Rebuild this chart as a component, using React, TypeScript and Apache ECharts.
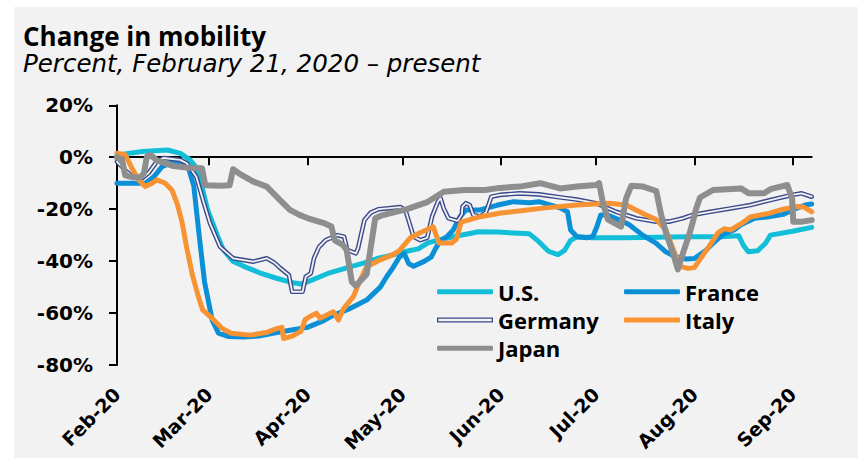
import React, { useEffect, useRef } from "react";
import * as echarts from "echarts";

// Days since Feb 21, 2020
const tickDays = [0, 29, 60, 90, 121, 151, 182, 213];
const tickLabels = ["Feb-20", "Mar-20", "Apr-20", "May-20", "Jun-20", "Jul-20", "Aug-20", "Sep-20"];
const yMin = -80;
const yMax = 20;
const yStep = 20;
const xMax = 219;

const usData = [
  [0, 0.5], [2.5, 1.3], [8, 2.2], [16, 2.8], [20, 1.5], [23, -1], [25, -4], [26.5, -10], [28.5, -20],
  [31.6, -30], [33.5, -35.6], [36.5, -40], [40, -42], [45, -44.5], [50, -46.5], [55, -48.2], [58, -48.8],
  [60, -48], [64, -46], [67, -44.5], [70, -43.5], [74, -42], [78, -40.7], [82, -39], [87, -37.6], [92, -36],
  [95, -35.3], [98, -33], [101, -32], [106, -30.6], [114, -28.7], [120, -28.8], [125, -29.2], [130, -29.5],
  [133, -32.5], [136, -36.2], [139, -37.5], [141, -36], [143, -32], [145, -30.6], [150, -31], [160, -31],
  [170, -30.8], [180, -30.6], [190, -30.6], [196, -30.2], [197.5, -34], [199, -36.4], [202, -36],
  [204.5, -33], [206, -30], [213, -28.5], [219, -27],
];

const franceData = [
  [0, -10], [9, -10], [11.6, -7.5], [14.2, -3.6], [16.7, -2.3], [21, -2.3], [22.5, -4], [24.2, -11],
  [25.8, -29], [27.6, -48], [30, -62.7], [32, -67.7], [35, -69], [40, -69.2], [45, -68.8], [50, -67.6],
  [55, -66.5], [60, -65.5], [65, -63], [68, -61], [73, -58.5], [78.7, -55], [83, -50], [85, -46],
  [87, -42.5], [89, -38.5], [90.5, -37], [92, -41], [93.5, -42], [97, -40], [99, -38.5], [100.5, -35],
  [102, -32], [104, -30.6], [106, -28], [108.1, -23], [110, -20.3], [114.5, -20.3], [119.7, -18.5],
  [125, -17.1], [130, -17.5], [133, -17.1], [139.7, -19.5], [142, -21], [143, -28], [145, -30.6],
  [148, -31], [150, -30.5], [151.3, -26.7], [152.5, -22.2], [154.5, -22.2], [158.5, -24.2], [161.5, -26],
  [165.7, -30], [169.9, -33.1], [173, -36.4], [176, -38.3], [179.4, -39.2], [182, -39], [185.5, -36],
  [188, -33], [191.2, -29.5], [194.5, -28], [196.7, -26], [201, -23.5], [205, -23], [210, -22],
  [213.5, -20], [217, -18.4], [219, -18],
];

const germanyData = [
  [0, -1.7], [3, -5.5], [5, -7.5], [8, -8], [10, -6], [12.5, -1.7], [14.6, -0.3], [19.9, -1], [22, -2.3],
  [25, -7.5], [27.1, -16.5], [29.3, -25.4], [32.5, -34.5], [36.6, -38.9], [42.9, -40.2], [45, -39.6],
  [47.2, -38.9], [49.5, -40.5], [51.3, -42.5], [54.2, -45.4], [55.2, -51.8], [58.5, -51.8], [59.5, -46],
  [61.1, -44.7], [62.1, -38.9], [63.7, -34.5], [65.8, -31.9], [69.5, -30], [71.6, -30.6], [72.6, -35.7],
  [75.3, -37], [76, -35], [76.8, -30.6], [78, -24.2], [80, -21.3], [82.5, -20], [89.3, -19.2],
  [90.9, -20.3], [91.9, -24.2], [93.5, -30.6], [95.6, -31.9], [97.8, -31], [99.3, -22.9], [101.2, -17],
  [102, -15.8], [103, -19.7], [104.5, -23.5], [107.4, -24.5], [108.7, -22], [108.9, -19], [110, -17.7],
  [111.2, -18.4], [112.3, -22.2], [114.5, -22.8], [116.3, -21.3], [118, -15.2], [120.7, -14.5],
  [126.9, -13.9], [133, -14.3], [140, -15.5], [145, -16.3], [151, -17.7], [157.4, -21], [163.7, -23.5],
  [170, -24.8], [174, -24.8], [178.4, -23.5], [181.5, -22.2], [187, -21], [193.4, -19.7], [199.7, -18.4],
  [206, -16.5], [212.8, -14.5], [215.8, -13.9], [219, -15.2],
];

const italyData = [
  [0, 1.5], [2.6, 1], [4.7, -4.2], [6.8, -8.7], [8.9, -11.3], [11, -10], [12.6, -8.7], [15.2, -10],
  [17.3, -12.6], [19, -18], [20.5, -25], [22, -35], [23.7, -45], [25.5, -53], [27, -58.8], [30, -62],
  [33.1, -65.9], [36, -67.8], [42, -68.5], [47, -67.5], [50.3, -66], [52, -65.5], [52.5, -69.8],
  [55, -69], [58, -67], [59.3, -62.5], [60.5, -61.5], [62.9, -60.1], [64, -62], [68.2, -59.5],
  [69.8, -62.7], [71.3, -58.5], [74.5, -53.7], [76.6, -47.5], [78.7, -42.2], [83, -39.5], [87, -37.5],
  [89, -36], [92.5, -31], [95.7, -29], [99.7, -26.8], [101.5, -33], [105.5, -33], [107, -31.5],
  [108.5, -25], [114.5, -22.9], [121, -21.5], [128, -20.5], [135, -19.5], [145, -18.4], [155, -17.7],
  [160.5, -18.4], [163.6, -20.3], [166.8, -22.2], [170, -24], [173, -28], [175.5, -36], [177.5, -42],
  [180, -42.8], [182, -42.5], [183.4, -40], [186.6, -34.4], [189.5, -29], [191.5, -27.5], [193.5, -28],
  [197, -25.4], [199.6, -23], [205.5, -21.6], [210, -20], [214, -19], [216.5, -19.2], [219, -21],
];

const japanData = [
  [0, 0], [1.6, -1], [2.6, -7], [5, -7.7], [7.3, -7.7], [8.5, -6.2], [9.4, 0.2], [10.5, 0.9],
  [12.6, -1.2], [17.8, -3.4], [22, -4], [26.8, -4.2], [27.8, -10.8], [33, -11], [35.5, -10.8],
  [36.6, -4.6], [38.8, -6.5], [43, -9.4], [47.2, -11.3], [51.4, -16.5], [54.5, -20.3], [57.5, -22.2],
  [60.2, -23.5], [65.5, -25.5], [67.6, -26.7], [68.6, -31.9], [71.2, -33.8], [72.4, -35.7], [74, -47.9],
  [75.3, -49.5], [78.7, -45], [81.4, -23.5], [83.2, -22.5], [91.4, -20], [97.6, -17.4], [103, -13.3],
  [109.5, -12.6], [116, -12.6], [120.7, -11.8], [126.9, -11.3], [133.4, -10], [139.7, -12], [145, -11.3],
  [151, -10.7], [152, -10], [153.2, -17.7], [154.8, -24], [158.9, -26.7], [160.5, -15.8], [162.1, -11],
  [165.8, -11.3], [170, -13], [171.5, -22], [173.1, -29.3], [175.3, -37], [176.8, -43.2], [178.4, -37],
  [180.5, -29.3], [181.5, -25], [182.5, -20], [183.8, -15.5], [188, -12.6], [196.7, -12], [199.2, -13.9],
  [204, -13.9], [206, -12.3], [211.3, -10.7], [212.8, -15.8], [213.2, -24.8], [216, -24.8], [219, -24.2],
];

const C_US = "#13BED8";
const C_FR = "#0B8FD6";
const C_DE = "#3B4A8C";
const C_IT = "#F89334";
const C_JP = "#8E8E8E";
const BG = "#F2F2F2";

const LEGEND_FONT = { fontFamily: "Open Sans", fontWeight: "bold" as const, fontSize: 22, color: "#000", lineHeight: 22 };
const AXIS_FONT = { fontFamily: "DejaVu Sans", fontWeight: "bold" as const, color: "#000" };
const germanyIcon = "path://M0,0H56V5H0Z M1.3,1.3V3.7H54.7V1.3Z";

function lineSeries(name: string, data: number[][], color: string, width: number) {
  return {
    name,
    type: "line",
    data,
    color,
    symbol: "none",
    showSymbol: false,
    silent: true,
    xAxisIndex: 0,
    yAxisIndex: 0,
    lineStyle: { color, width, cap: "round", join: "round" },
    emphasis: { disabled: true },
  };
}

export default function App() {
  const ref = useRef<HTMLDivElement>(null);
  useEffect(() => {
    const chart = echarts.init(ref.current!, undefined, { renderer: "svg", width: 860, height: 458 });
    const labelFor = (v: number) => {
      const i = tickDays.indexOf(Math.round(v));
      return i >= 0 ? tickLabels[i] : "";
    };
    chart.setOption({
      animation: false,
      backgroundColor: "transparent",
      grid: { left: 117, top: 105.3, width: 694.7, height: 259.7, containLabel: false },
      graphic: [
        {
          type: "text", x: 23, y: 35.5,
          style: { text: "Change in mobility", fontFamily: "Open Sans", fontWeight: "bold", fontSize: 26, lineHeight: 24, fill: "#000", verticalAlign: "middle" },
        },
        {
          type: "text", x: 23, y: 63,
          style: { text: "Percent, February 21, 2020 \u2013 present", fontFamily: "DejaVu Sans", fontStyle: "italic", fontSize: 24.5, lineHeight: 24, fill: "#000", verticalAlign: "middle" },
        },
      ],
      legend: [
        {
          orient: "vertical", left: 437, top: 280.7, padding: 0, itemWidth: 56, itemHeight: 5, itemGap: 6.3,
          selectedMode: false, textStyle: LEGEND_FONT,
          data: [
            { name: "U.S.", icon: "roundRect" },
            { name: "Germany", icon: germanyIcon },
            { name: "Japan", icon: "roundRect" },
          ],
        },
        {
          orient: "vertical", left: 624, top: 280.7, padding: 0, itemWidth: 56, itemHeight: 5, itemGap: 6.3,
          selectedMode: false, textStyle: LEGEND_FONT,
          data: [
            { name: "France", icon: "roundRect" },
            { name: "Italy", icon: "roundRect" },
          ],
        },
      ],
      xAxis: [
        {
          type: "value", min: 0, max: xMax, position: "bottom",
          axisLine: { show: false, onZero: false },
          axisTick: { show: false },
          splitLine: { show: false },
          axisLabel: { ...AXIS_FONT, fontSize: 19, rotate: 45, margin: 26, customValues: tickDays, formatter: labelFor },
        },
        {
          type: "value", min: 0, max: xMax, position: "bottom",
          axisLine: { show: true, onZero: true, lineStyle: { color: "#000", width: 2 } },
          axisTick: { show: true, length: 8, customValues: tickDays.slice(1), lineStyle: { color: "#000", width: 2 } },
          axisLabel: { show: false },
          splitLine: { show: false },
        },
      ],
      yAxis: {
        type: "value", min: yMin, max: yMax, interval: yStep, position: "left",
        axisLine: { show: true, onZero: false, lineStyle: { color: "#000", width: 2 } },
        axisTick: { show: true, length: 8, lineStyle: { color: "#000", width: 2 } },
        axisLabel: { ...AXIS_FONT, fontSize: 20, margin: 24, formatter: "{value}%" },
        splitLine: { show: false },
      },
      series: [
        lineSeries("U.S.", usData, C_US, 5),
        lineSeries("France", franceData, C_FR, 5),
        lineSeries("Germany", germanyData, C_DE, 4.6),
        lineSeries("Germany inner", germanyData, BG, 1.8),
        lineSeries("Italy", italyData, C_IT, 5),
        lineSeries("Japan", japanData, C_JP, 6),
      ],
    });
    return () => chart.dispose();
  }, []);
  return (
    <div style={{ position: "fixed", left: 0, top: 0, width: 860, height: 458, background: "#fff" }}>
      <div style={{ position: "absolute", left: 14, top: 7, width: 844, height: 451, background: BG }} />
      <div ref={ref} style={{ position: "absolute", left: 0, top: 0, width: 860, height: 458 }} />
    </div>
  );
}
